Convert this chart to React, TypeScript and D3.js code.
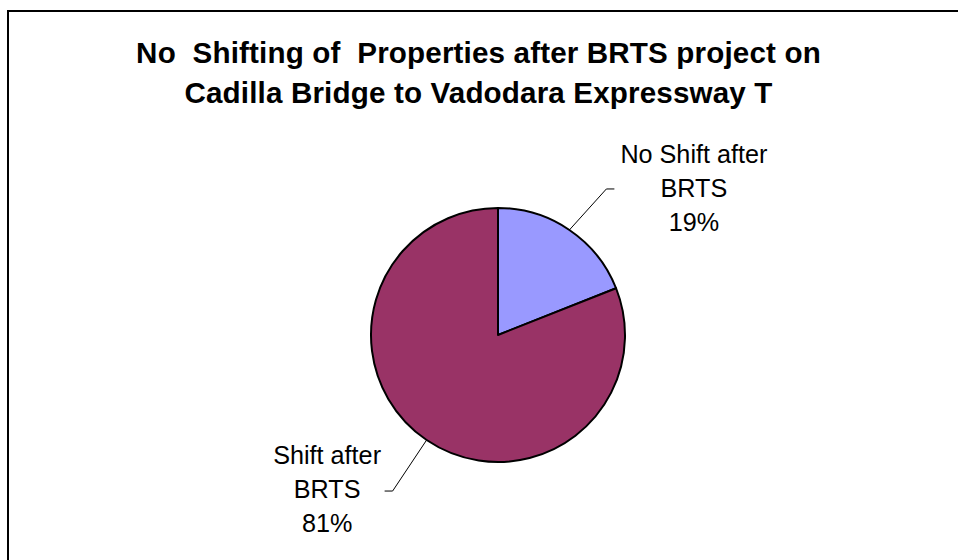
import React from "react";
import * as d3 from "d3";

const categories = ["No Shift after BRTS", "Shift after BRTS"];
const labelLines = [["No Shift after", "BRTS"], ["Shift after", "BRTS"]];
const values = [19, 81];
const colors = ["#9999FF", "#993366"];
const titleLines = ["No  Shifting of  Properties after BRTS project on", "Cadilla Bridge to Vadodara Expressway T"];

const W = 958;
const H = 560;
const cx = 498;
const cy = 335;
const R = 127;

// leader elbow offsets and label placement (style)
const leaderStyle = [
  { dx: 37, dy: -41, hx: 8, labelDx: 79.5, labelDy: 8 },
  { dx: -34, dy: 51, hx: -8, labelDx: -57.5, labelDy: 7 },
];

export default function App() {
  const pie = d3.pie<number>().sort(null).startAngle(0).endAngle(2 * Math.PI)(values);
  const arc = d3.arc<d3.PieArcDatum<number>>().innerRadius(0).outerRadius(R);
  const edge = d3.arc<d3.PieArcDatum<number>>().innerRadius(R).outerRadius(R);
  const total = d3.sum(values);
  const font = "'Liberation Sans', Arial, sans-serif";

  return (
    <svg width={W} height={H} style={{ position: "absolute", left: 0, top: 0, background: "#fff" }} fontFamily={font}>
      <rect x={8} y={11} width={W + 20} height={H + 20} fill="#fff" stroke="#000" strokeWidth={2} />
      <text x={478.5} textAnchor="middle" fontWeight="bold" fontSize={29.6} letterSpacing={0.15} style={{ whiteSpace: "pre" }}>
        {titleLines.map((t, i) => (
          <tspan key={i} x={478.5} y={63 + i * 40}>{t}</tspan>
        ))}
      </text>
      <g transform={`translate(${cx},${cy})`}>
        {pie.map((d, i) => (
          <path key={categories[i]} d={arc(d) || ""} fill={colors[i]} stroke="#000" strokeWidth={2} strokeLinejoin="round" />
        ))}
        {pie.map((d, i) => {
          const [px, py] = edge.centroid(d);
          const s = leaderStyle[i];
          const ex = px + s.dx;
          const ey = py + s.dy;
          const hx = ex + s.hx;
          const pct = Math.round((d.value / total) * 100) + "%";
          const lines = [...labelLines[i], pct];
          const lx = hx + s.labelDx;
          const midBase = ey + s.labelDy;
          return (
            <g key={"l" + i}>
              <polyline points={`${px},${py} ${ex},${ey} ${hx},${ey}`} fill="none" stroke="#000" strokeWidth={1} />
              <text textAnchor="middle" fontSize={25.2} fill="#000">
                {lines.map((t, j) => (
                  <tspan key={j} x={lx} y={midBase + (j - 1) * 34}>{t}</tspan>
                ))}
              </text>
            </g>
          );
        })}
      </g>
    </svg>
  );
}
